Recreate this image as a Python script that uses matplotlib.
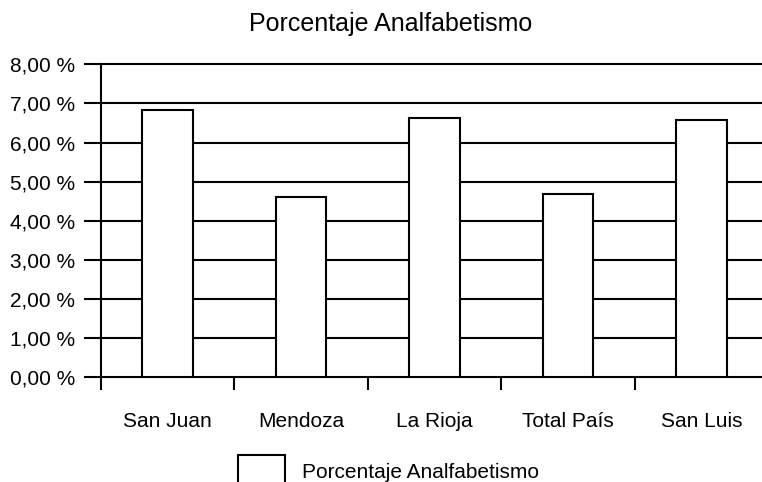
import matplotlib
matplotlib.use("Agg")
import matplotlib.pyplot as plt
from matplotlib.ticker import FuncFormatter

plt.rcParams["font.family"] = ["Liberation Sans", "DejaVu Sans"]

# datos
provincias = ["San Juan", "Mendoza", "La Rioja", "Total País", "San Luis"]
analfabetismo = [6.83, 4.62, 6.63, 4.68, 6.57]
serie = "Porcentaje Analfabetismo"
y_ticks = [0, 1, 2, 3, 4, 5, 6, 7, 8]

fig = plt.figure(figsize=(7.62, 4.82), dpi=100)
ax = fig.add_axes([101 / 762, 0.2172, 667 / 762, 0.6494])

x = range(len(provincias))
ax.bar(x, analfabetismo, width=0.38, color="white", edgecolor="black",
       linewidth=1.5, label=serie, zorder=3)

ax.set_xlim(-0.5, len(provincias) - 0.5)
ax.set_ylim(0, 8)
ax.set_yticks(y_ticks)
ax.yaxis.set_major_formatter(FuncFormatter(lambda v, p: f"{v:.2f} %".replace(".", ",")))
ax.grid(axis="y", color="black", linewidth=1.5, zorder=1)
for gl in ax.get_ygridlines():
    gl.set_clip_on(False)

ax.set_xticks(list(x))
ax.set_xticklabels(provincias)
ax.set_xticks([i - 0.5 for i in range(len(provincias) + 1)], minor=True)
ax.tick_params(axis="x", which="major", length=0, pad=25, labelsize=15)
ax.tick_params(axis="x", which="minor", length=9, width=1.5, direction="out")
ax.tick_params(axis="y", length=12.5, width=1.5, pad=6, labelsize=15)

for s in ["top", "right", "bottom"]:
    ax.spines[s].set_visible(False)
ax.spines["left"].set_linewidth(1.5)

fig.suptitle(serie, fontsize=18, x=0.512, y=0.975)

fig.legend(loc="center", bbox_to_anchor=(0.5096, 0.022), frameon=False,
           fontsize=15, handlelength=2.3, handleheight=2.0, handletextpad=0.8)

fig.savefig("out.png", dpi=100)
